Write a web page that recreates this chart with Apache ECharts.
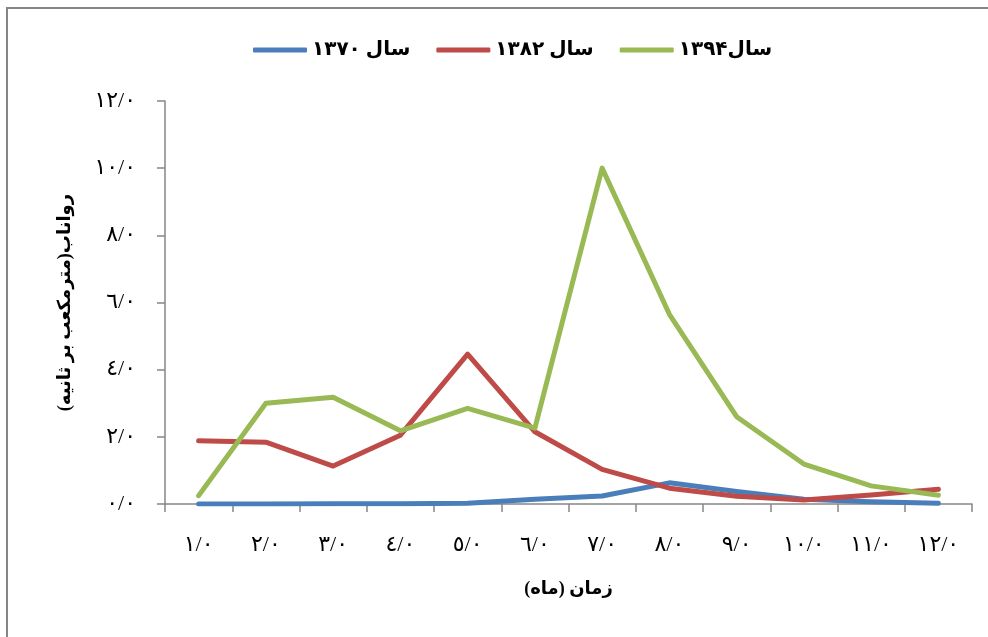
<!DOCTYPE html>
<html>
<head>
<meta charset="utf-8">
<script src="https://cdn.jsdelivr.net/npm/echarts@6/dist/echarts.min.js"></script>
<style>
  html, body { margin: 0; padding: 0; background: #fff; }
  #chart { width: 988px; height: 637px; }
</style>
</head>
<body>
<div id="chart"></div>
<script>
// Months (x categories) and y tick labels, written with Arabic-Indic digits
const months = ['١/٠', '٢/٠', '٣/٠', '٤/٠', '٥/٠', '٦/٠', '٧/٠', '٨/٠', '٩/٠', '١٠/٠', '١١/٠', '١٢/٠'];
const yTickLabels = ['٠/٠', '٢/٠', '٤/٠', '٦/٠', '٨/٠', '١٠/٠', '١٢/٠'];

// Monthly runoff (m³/s) for each year
const seriesNames = ['سال ۱۳۷۰', 'سال ۱۳۸۲', 'سال۱۳۹۴'];
const runoff1370 = [0.0, 0.0, 0.01, 0.01, 0.02, 0.14, 0.24, 0.63, 0.37, 0.14, 0.07, 0.02];
const runoff1382 = [1.88, 1.84, 1.13, 2.05, 4.46, 2.15, 1.03, 0.47, 0.23, 0.12, 0.27, 0.44];
const runoff1394 = [0.25, 3.0, 3.18, 2.18, 2.85, 2.26, 10.0, 5.65, 2.6, 1.19, 0.54, 0.26];

const colors = ['#4a7ebb', '#be4b48', '#98b954'];
const fontFam = '"Times New Roman", "Liberation Serif", "DejaVu Sans", serif';
const axisGray = '#868686';

function lineSeries(name, data, color) {
  return {
    name: name,
    type: 'line',
    data: data,
    symbol: 'none',
    smooth: false,
    lineStyle: { width: 5, color: color, cap: 'round', join: 'round' },
    itemStyle: { color: color },
    emphasis: { disabled: true }
  };
}

const chart = echarts.init(document.getElementById('chart'), null, { renderer: 'canvas' });
chart.setOption({
  animation: false,
  backgroundColor: '#fff',
  graphic: [{
    type: 'rect',
    shape: { x: 7, y: 8, width: 1000, height: 700 },
    style: { fill: 'none', stroke: axisGray, lineWidth: 2 },
    silent: true
  }],
  legend: {
    top: 35,
    left: 248,
    icon: 'roundRect',
    itemWidth: 54,
    itemHeight: 5,
    itemGap: 26,
    textStyle: { fontFamily: fontFam, fontSize: 20, fontWeight: 'bold', color: '#000' },
    data: seriesNames
  },
  grid: { left: 165, right: 16, top: 101, bottom: 133, containLabel: false },
  xAxis: {
    type: 'category',
    data: months,
    boundaryGap: true,
    name: 'زمان (ماه)',
    nameLocation: 'middle',
    nameGap: 76,
    nameTextStyle: { fontFamily: fontFam, fontSize: 18, fontWeight: 'bold', color: '#000' },
    axisLine: { lineStyle: { color: axisGray, width: 1.5 } },
    axisTick: { show: true, interval: 0, length: 8, lineStyle: { color: axisGray, width: 1.5 } },
    axisLabel: { interval: 0, margin: 30, fontFamily: fontFam, fontSize: 22, color: '#000' },
    splitLine: { show: false }
  },
  yAxis: {
    type: 'value',
    min: 0,
    max: 12,
    interval: 2,
    name: 'رواناب(مترمکعب بر ثانیه)',
    nameLocation: 'middle',
    nameRotate: 90,
    nameGap: 91,
    nameTextStyle: { fontFamily: fontFam, fontSize: 18, fontWeight: 'bold', color: '#000' },
    axisLine: { show: true, lineStyle: { color: axisGray, width: 1.5 } },
    axisTick: { show: true, length: 8, lineStyle: { color: axisGray, width: 1.5 } },
    axisLabel: {
      margin: 29,
      fontFamily: fontFam,
      fontSize: 22,
      color: '#000',
      formatter: function (v) { return yTickLabels[Math.round(v / 2)]; }
    },
    splitLine: { show: false }
  },
  series: [
    lineSeries(seriesNames[0], runoff1370, colors[0]),
    lineSeries(seriesNames[1], runoff1382, colors[1]),
    lineSeries(seriesNames[2], runoff1394, colors[2])
  ]
});
</script>
</body>
</html>
